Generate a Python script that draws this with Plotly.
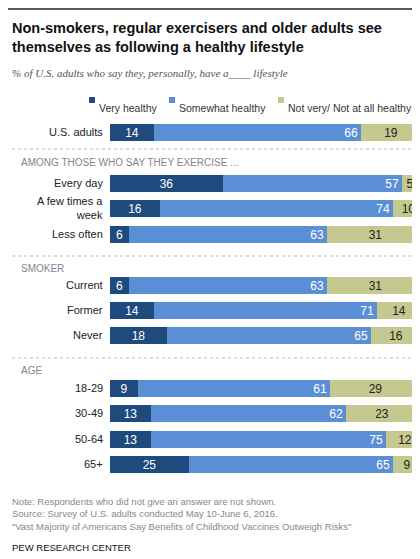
import plotly.graph_objects as go

W, H = 420, 559
L, R, T, B = 102, 4, 112, 91

rows = ["U.S. adults", "Every day", "A few times a<br>week", "Less often",
        "Current", "Former", "Never", "18-29", "30-49", "50-64", "65+"]
very = [14, 36, 16, 6, 6, 14, 18, 9, 13, 13, 25]
somewhat = [66, 57, 74, 63, 63, 71, 65, 61, 62, 75, 65]
notvery = [19, 5, 10, 31, 31, 14, 16, 29, 23, 12, 9]
# vertical row positions (pixel-like layout units)
row_y = [124, 175, 200, 226, 277, 302, 327, 380, 405, 431, 456]
headers = ["AMONG THOSE WHO SAY THEY EXERCISE ...", "SMOKER", "AGE"]
header_y = [154, 260, 362]
sep_y = [141, 248, 350]
legend_names = ["Very healthy", "Somewhat healthy", "Not very/ Not at all healthy"]
legend_x = [81, 161, 270]

FONT = "Liberation Sans"
COLS = ["#1f4a7e", "#5a8fd5", "#c6c98f"]
fig = go.Figure()
series = [(very, "white", "middle"), (somewhat, "white", "end"), (notvery, "#222", "middle")]
for (vals, tcol, anchor), name, col in zip(series, legend_names, COLS):
    fig.add_trace(go.Bar(
        y=row_y, x=vals, name=name, orientation="h", width=17,
        marker=dict(color=col, line=dict(width=0)),
        text=vals, textposition="inside", insidetextanchor=anchor, textangle=0,
        textfont=dict(color=tcol, size=12, family=FONT),
        constraintext="none", hoverinfo="skip", showlegend=False))

def px(x):
    return (x - L) / (W - L - R)

def py(y):
    return 1 - (y - T) / (H - T - B)

ann = []
for lab, y in zip(rows, row_y):
    ann.append(dict(x=px(97), y=y, xref="paper", yref="y", text=lab, showarrow=False,
                    xanchor="right", align="right", font=dict(size=11, color="#222", family=FONT)))
for lab, y in zip(headers, header_y):
    ann.append(dict(x=px(11), y=y, xref="paper", yref="y", text=lab, showarrow=False,
                    xanchor="left", font=dict(size=10, color="#8a7f93", family=FONT)))
shapes = [dict(type="line", xref="paper", yref="y", x0=px(4), x1=px(414), y0=s, y1=s,
               line=dict(color="#bbbbbb", width=1, dash="dot")) for s in sep_y]
shapes.append(dict(type="line", xref="paper", yref="paper", x0=px(0), x1=px(420),
                   y0=py(1), y1=py(1), line=dict(color="#222", width=1.5)))
for name, lx, col in zip(legend_names, legend_x, COLS):
    shapes.append(dict(type="rect", xref="paper", yref="paper", x0=px(lx), x1=px(lx + 6),
                       y0=py(89), y1=py(95), fillcolor=col, line=dict(width=0)))
    ann.append(dict(x=px(lx + 8), y=py(92), xref="paper", yref="paper", text=name, showarrow=False,
                    xanchor="left", font=dict(size=10.5, color="#333", family=FONT)))

extra = [
    dict(x=px(2), y=py(10), text="<b>Non-smokers, regular exercisers and older adults see<br>themselves as following a healthy lifestyle</b>",
         xanchor="left", yanchor="top", align="left", font=dict(size=14.5, color="#111", family=FONT)),
    dict(x=px(2), y=py(57), text="<i>% of U.S. adults who say they, personally, have a____ lifestyle</i>",
         xanchor="left", yanchor="top", align="left", font=dict(size=11, color="#555", family="Liberation Serif")),
    dict(x=px(2), y=py(486), text="Note: Respondents who did not give an answer are not shown.<br>Source: Survey of U.S. adults conducted May 10-June 6, 2016.<br>“Vast Majority of Americans Say Benefits of Childhood Vaccines Outweigh Risks”",
         xanchor="left", yanchor="top", align="left", font=dict(size=9.5, color="#888", family=FONT)),
    dict(x=px(2), y=py(532), text="PEW RESEARCH CENTER", xanchor="left", yanchor="top",
         font=dict(size=9.5, color="#111", family=FONT)),
]
for a in extra:
    a.update(xref="paper", yref="paper", showarrow=False)
ann += extra

fig.update_layout(
    width=W, height=H, barmode="stack", bargap=0, showlegend=False,
    margin=dict(l=L, r=R, t=T, b=B, autoexpand=False),
    plot_bgcolor="white", paper_bgcolor="white",
    xaxis=dict(range=[0, 100], visible=False, fixedrange=True),
    yaxis=dict(range=[H - B, T], visible=False, fixedrange=True),
    annotations=ann, shapes=shapes,
)
fig.write_html("out.html")
